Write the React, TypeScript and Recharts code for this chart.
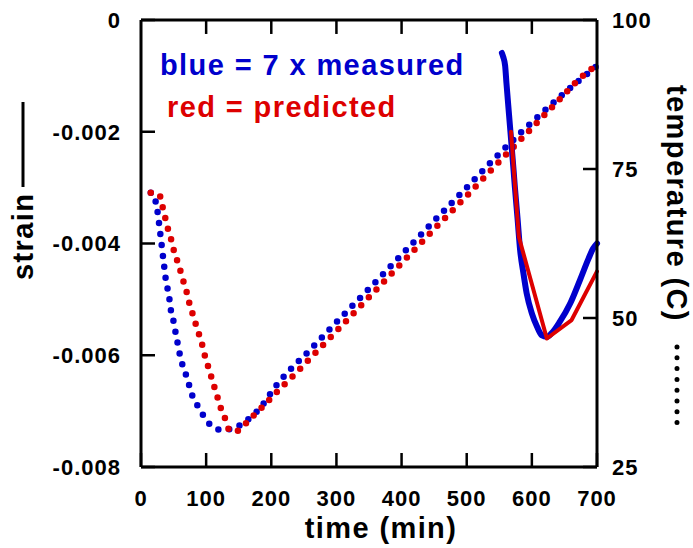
import React from 'react';
import { ComposedChart, Line, XAxis, YAxis, ReferenceLine } from 'recharts';

const FONT = '"Liberation Sans", Arial, Helvetica, sans-serif';
const BLUE = '#0000cc';
const RED = '#dd0000';

const timeTicks = [0, 100, 200, 300, 400, 500, 600, 700];
const topTickTimes = [100, 200, 300, 400, 500, 600];
const strainTicks = [-0.008, -0.006, -0.004, -0.002, 0];
const tempTicks = [25, 50, 75, 100];
const strainTop = 0;
const topTickLen = 0.00025;

const blueTempTime = [15, 20, 23, 26, 28, 30, 32, 34, 36, 38, 41, 44, 46, 50, 53, 56, 59, 63, 69, 74, 79, 88, 97, 108, 124, 142, 157, 172, 185, 196, 208, 222, 235, 249, 300, 350, 400, 450, 500, 543, 585, 642, 700];
const blueTemp = [71.0, 70.8, 69.2, 67.4, 65.6, 63.8, 62.0, 60.1, 58.3, 56.5, 54.8, 52.9, 51.2, 49.4, 47.6, 45.9, 44.2, 42.4, 40.5, 38.7, 36.9, 35.1, 33.4, 31.9, 31.2, 31.5, 32.4, 33.7, 35.2, 36.9, 38.7, 40.5, 42.0, 43.5, 49.3, 54.9, 60.6, 66.3, 71.9, 76.8, 81.3, 87.0, 92.3];

const redTempTime = [15, 22, 29, 33, 37, 41, 46, 50, 55, 60, 65, 70, 74, 79, 84, 89, 94, 98, 103, 108, 113, 118, 123, 130, 136, 143, 149, 166, 183, 198, 213, 231, 247, 262, 300, 350, 400, 450, 500, 546, 578, 609, 642, 671, 700];
const redTemp = [71.0, 71.0, 70.5, 68.7, 66.9, 65.1, 63.3, 61.5, 59.8, 58.1, 56.2, 54.4, 52.6, 50.8, 49.0, 47.3, 45.5, 43.7, 41.9, 40.1, 38.3, 36.5, 34.7, 32.9, 31.1, 30.9, 31.1, 32.9, 34.7, 36.4, 38.1, 40.0, 41.8, 43.5, 47.8, 53.5, 59.2, 64.9, 70.5, 75.8, 79.4, 82.9, 86.6, 89.9, 92.5];

const blueStrainTime = [554, 556, 559, 561, 565, 569, 572, 574, 578, 582, 587, 592, 600, 608, 615, 623, 630, 643, 659, 674, 687, 694, 700];
const blueStrain = [-0.00059, -0.00066, -0.00082, -0.00113, -0.0017, -0.00227, -0.0027, -0.003, -0.00355, -0.00412, -0.00453, -0.00489, -0.00525, -0.00549, -0.00564, -0.00567, -0.00561, -0.0054, -0.00507, -0.00465, -0.00427, -0.00409, -0.004];

const redStrainTime = [568, 580, 623, 661, 700];
const redStrain = [-0.002, -0.00388, -0.0057, -0.00537, -0.0045];

const zip = (ts: number[], vs: number[], key: string) => ts.map((t, i) => ({ t, [key]: vs[i] }));

const blueTempData = zip(blueTempTime, blueTemp, 'temp');
const redTempData = zip(redTempTime, redTemp, 'temp');
const blueStrainData = zip(blueStrainTime, blueStrain, 'strain');
const redStrainData = zip(redStrainTime, redStrain, 'strain');

const bigText = { fontFamily: FONT, fontWeight: 'bold', fontSize: 29, letterSpacing: '1.4px' } as React.CSSProperties;
const tickStyle = () => ({ fill: '#000', fontSize: 22, fontWeight: 'bold', fontFamily: FONT, letterSpacing: '1px' } as any);
const axisLineStyle = () => ({ stroke: '#000', strokeWidth: 3 });
const tickLineStyle = () => ({ stroke: '#000', strokeWidth: 2.5 });

const StrainTitle = (props: any) => {
  const vb = props.viewBox || { x: 0, y: 20, width: 141, height: 447 };
  const bx = vb.x + 33;
  const by = vb.y + 260;
  const lx = vb.x + 23;
  const px = vb.x + vb.width;
  return (
    <g>
      <text x={bx} y={by} transform={`rotate(-90 ${bx} ${by})`} textAnchor="start" fill="#000" style={bigText}>strain</text>
      <line x1={lx} x2={lx} y1={vb.y + 167} y2={vb.y + 82} stroke="#000" strokeWidth={3} />
      <text x={px + 19} y={vb.y + 55} fill={BLUE} style={bigText}>blue = 7 x measured</text>
      <text x={px + 26} y={vb.y + 97} fill={RED} style={bigText}>red = predicted</text>
    </g>
  );
};

const TempTitle = (props: any) => {
  const vb = props.viewBox || { x: 597, y: 20, width: 96, height: 447 };
  const bx = vb.x + 70;
  const by = vb.y + 65;
  const dx = vb.x + 80;
  return (
    <g>
      <text x={bx} y={by} transform={`rotate(90 ${bx} ${by})`} textAnchor="start" fill="#000" style={bigText}>temperature (C)</text>
      <line x1={dx} x2={dx} y1={vb.y + 327} y2={vb.y + 403} stroke="#000" strokeWidth={5} strokeDasharray="0 10.8" strokeLinecap="round" />
    </g>
  );
};

const TimeTitle = (props: any) => {
  const vb = props.viewBox || { x: 141, y: 467, width: 456, height: 81 };
  return (
    <text x={vb.x + vb.width / 2 + 12} y={vb.y + 71} textAnchor="middle" fill="#000" style={bigText}>time (min)</text>
  );
};

export default function App() {
  return (
    <div style={{ position: 'absolute', left: 0, top: 0, width: 693, height: 548, background: '#fff' }}>
      <ComposedChart width={693} height={548} margin={{ top: 20, right: 0, bottom: 0, left: 0 }}>
        <XAxis
          xAxisId="bottom"
          type="number"
          dataKey="t"
          domain={[0, 700]}
          ticks={timeTicks}
          interval={0}
          orientation="bottom"
          height={81}
          tickSize={-14}
          tickMargin={37}
          axisLine={axisLineStyle()}
          tickLine={tickLineStyle()}
          tick={tickStyle()}
          label={{ content: TimeTitle } as any}
        />
        <YAxis
          yAxisId="strain"
          type="number"
          domain={[-0.008, 0]}
          ticks={strainTicks}
          interval={0}
          allowDataOverflow
          orientation="left"
          width={141}
          tickSize={-14}
          tickMargin={34}
          axisLine={axisLineStyle()}
          tickLine={tickLineStyle()}
          tick={tickStyle()}
          tickFormatter={(v: number) => (v === 0 ? '0' : v.toFixed(3))}
          label={{ content: StrainTitle } as any}
        />
        <YAxis
          yAxisId="temp"
          type="number"
          domain={[25, 100]}
          ticks={tempTicks}
          interval={0}
          allowDataOverflow
          orientation="right"
          width={96}
          tickSize={-14}
          tickMargin={29}
          axisLine={axisLineStyle()}
          tickLine={tickLineStyle()}
          tick={tickStyle()}
          label={{ content: TempTitle } as any}
        />
        <ReferenceLine xAxisId="bottom" yAxisId="strain" y={strainTop} stroke="#000" strokeWidth={3} ifOverflow="visible" />
        {topTickTimes.map((t) => (
          <ReferenceLine
            key={t}
            xAxisId="bottom"
            yAxisId="strain"
            segment={[{ x: t, y: strainTop }, { x: t, y: strainTop - topTickLen }]}
            stroke="#000"
            strokeWidth={2.5}
            ifOverflow="visible"
          />
        ))}
        <Line data={blueTempData} dataKey="temp" xAxisId="bottom" yAxisId="temp" type="monotone" stroke={BLUE} strokeWidth={6.5} strokeDasharray="0 11" strokeLinecap="round" dot={false} activeDot={false} isAnimationActive={false} />
        <Line data={redTempData} dataKey="temp" xAxisId="bottom" yAxisId="temp" type="monotone" stroke={RED} strokeWidth={6.5} strokeDasharray="0 11" strokeLinecap="round" dot={false} activeDot={false} isAnimationActive={false} />
        <Line data={blueStrainData} dataKey="strain" xAxisId="bottom" yAxisId="strain" type="monotone" stroke={BLUE} strokeWidth={6} strokeLinecap="round" strokeLinejoin="round" dot={false} activeDot={false} isAnimationActive={false} />
        <Line data={redStrainData} dataKey="strain" xAxisId="bottom" yAxisId="strain" type="linear" stroke={RED} strokeWidth={4} strokeLinecap="round" strokeLinejoin="round" dot={false} activeDot={false} isAnimationActive={false} />
      </ComposedChart>
    </div>
  );
}
